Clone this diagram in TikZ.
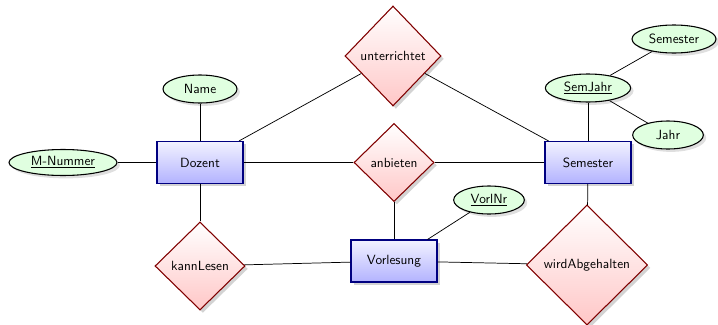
\documentclass[tikz,border=0pt]{standalone}
\usetikzlibrary{shapes.geometric,shadows}
\begin{document}
\begin{tikzpicture}[x=0.75pt,y=-0.75pt,
  font=\sffamily,
  every node/.style={inner sep=0pt},
  entity/.style={rectangle,draw=blue!50!black,thick,top color=blue!5,bottom color=blue!30,
     minimum width=64.5pt,minimum height=31.5pt,drop shadow={opacity=0.35}},
  rel/.style={diamond,draw=red!50!black,thick,top color=white,bottom color=red!22,
     drop shadow={opacity=0.35}},
  attr/.style={ellipse,draw=black,thick,fill=green!12,minimum height=21pt,drop shadow={opacity=0.25}},
  link/.style={draw=black,line width=0.55pt}]
\useasboundingbox (0,0) rectangle (718,325);
% entities
\node[entity] (dozent) at (200,162.5) {Dozent};
\node[entity] (semester) at (588,162.5) {Semester};
\node[entity] (vorlesung) at (394,261) {Vorlesung};
% relationships
\node[rel,minimum width=72pt,minimum height=75pt] (unterrichtet) at (393,56) {unterrichtet};
\node[rel,minimum width=60pt,minimum height=58.5pt] (anbieten) at (394,162.5) {anbieten};
\node[rel,minimum width=67.5pt,minimum height=66pt] (kannlesen) at (200,266) {kannLesen};
\node[rel,minimum width=91pt,minimum height=90pt] (wird) at (587,265) {wirdAbgehalten};
% attributes
\node[attr,minimum width=55.5pt] (name) at (200,89) {Name};
\node[attr,minimum width=81pt,minimum height=19.5pt] (mnr) at (63,162.5) {\underline{M-Nummer}};
\node[attr,minimum width=64pt] (semjahr) at (588,88) {\underline{SemJahr}};
\node[attr,minimum width=63pt] (semattr) at (674,39) {Semester};
\node[attr,minimum width=53pt] (jahr) at (668,135) {Jahr};
\node[attr,minimum width=53pt] (vorlnr) at (489,200) {\underline{VorlNr}};
% connectors
\draw[link] (dozent) -- (name);
\draw[link] (dozent) -- (mnr);
\draw[link] (dozent) -- (unterrichtet);
\draw[link] (unterrichtet) -- (semester);
\draw[link] (dozent) -- (anbieten);
\draw[link] (anbieten) -- (semester);
\draw[link] (anbieten) -- (vorlesung);
\draw[link] (dozent) -- (kannlesen);
\draw[link] (kannlesen) -- (vorlesung);
\draw[link] (vorlesung) -- (wird);
\draw[link] (wird) -- (semester);
\draw[link] (vorlesung) -- (vorlnr);
\draw[link] (semester) -- (semjahr);
\draw[link] (semjahr) -- (semattr);
\draw[link] (semjahr) -- (jahr);
\end{tikzpicture}
\end{document}
